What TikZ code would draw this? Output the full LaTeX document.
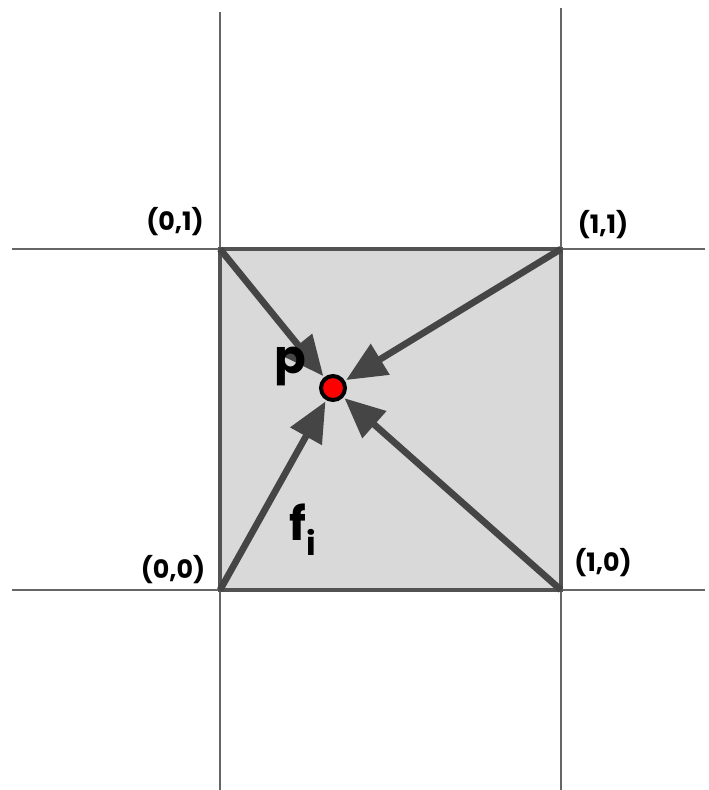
\documentclass[tikz,border=0pt]{standalone}
\usepackage{fontspec}
\setmainfont{Poppins}
\usetikzlibrary{arrows.meta}

\tikzset{
  gridline/.style={draw=black!60, line width=1.5},
  cell/.style={fill=black!15, draw=black!68, line width=3},
  weight/.style={draw=black!73, line width=5, shorten >=1,
    -{Triangle[length=30, width=26]}},
  corner/.style={font=\fontsize{19}{19}\selectfont\bfseries},
  biglabel/.style={font=\fontsize{35}{35}\selectfont\bfseries}
}

\begin{document}
\begin{tikzpicture}[x=0.75pt, y=-0.75pt]

  \useasboundingbox (0,0) rectangle (708,790);

  % Grid lines through the cell corners
  \foreach \x/\t in {220/12, 561/8}{
    \draw[gridline] (\x,\t) -- (\x,790);
  }
  \foreach \y in {249, 590}{
    \draw[gridline] (12,\y) -- (705,\y);
  }

  % Cell corners
  \coordinate (c00) at (220,590);
  \coordinate (c10) at (561,590);
  \coordinate (c01) at (220,249);
  \coordinate (c11) at (561,249);

  \draw[cell] (c00) rectangle (c11);

  % Sample point
  \node[circle, fill=red, draw=black, line width=3, minimum size=18,
    inner sep=0] (p) at (333,388) {};

  % Contributions from each corner
  \foreach \c in {c00, c10, c01, c11}{
    \draw[weight] (\c) -- (p);
  }

  % Labels
  \node[corner] (l01) at (175,222) {(0,1)};
  \node[corner] (l11) at (603,225) {(1,1)};
  \node[corner] (l00) at (173,570) {(0,0)};
  \node[corner] (l10) at (603,563) {(1,0)};
  \node[biglabel] (lp) at (290,366) {p};
  \node[biglabel] (lf) at (303,530) {f\textsubscript{i}};

\end{tikzpicture}
\end{document}
